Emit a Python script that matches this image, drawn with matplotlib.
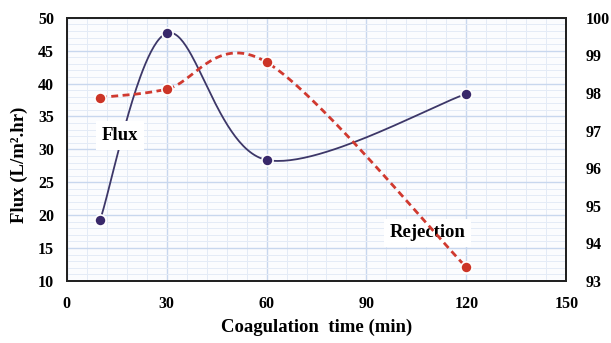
import numpy as np
import matplotlib.pyplot as plt
from matplotlib.ticker import MultipleLocator

time = [10, 30, 60, 120]
flux = [19.2, 47.65, 28.4, 38.45]
rejection = [97.88, 98.1, 98.82, 93.36]


def excel_smooth(x, y, n=60):
    # cubic bezier segments like Excel's "smoothed line"
    p = np.column_stack([x, y]).astype(float)
    pts = []
    for i in range(len(p) - 1):
        p0 = p[i - 1] if i > 0 else p[i]
        p3 = p[i + 2] if i + 2 < len(p) else p[i + 1]
        b0, b3 = p[i], p[i + 1]
        b1 = b0 + (p[i + 1] - p0) / 6
        b2 = b3 - (p3 - p[i]) / 6
        t = np.linspace(0, 1, n)[:, None]
        seg = ((1 - t) ** 3) * b0 + 3 * ((1 - t) ** 2) * t * b1 + 3 * (1 - t) * t ** 2 * b2 + t ** 3 * b3
        pts.append(seg)
    pts = np.vstack(pts)
    return pts[:, 0], pts[:, 1]


plt.rcParams["font.family"] = ["Liberation Serif", "DejaVu Serif"]
plt.rcParams["font.weight"] = "bold"

fig = plt.figure(figsize=(6.11, 3.43), dpi=100)
ax = fig.add_axes([0.109, 0.181, 0.818, 0.767])
ax.set_facecolor("#fbfcfe")
ax2 = ax.twinx()

ax.set_xlim(0, 150)
ax.set_ylim(10, 50)
ax2.set_ylim(93, 100)

ax.xaxis.set_major_locator(MultipleLocator(30))
ax.xaxis.set_minor_locator(MultipleLocator(6))
ax.yaxis.set_major_locator(MultipleLocator(5))
ax.yaxis.set_minor_locator(MultipleLocator(1))
ax2.yaxis.set_major_locator(MultipleLocator(1))

ax.grid(which="major", color="#c8d7ee", lw=1.0)
ax.grid(which="minor", color="#e4ebf6", lw=0.7)
ax.set_axisbelow(True)

for a in (ax, ax2):
    for s in a.spines.values():
        s.set_linewidth(1.4)
        s.set_color("#222222")
    a.tick_params(which="both", length=0, labelsize=11.5)

ax.tick_params(axis="y", pad=9)
ax.tick_params(axis="x", pad=11)
ax2.tick_params(axis="y", pad=14)

# flux curve
fx, fy = excel_smooth(time, flux)
ax.plot(fx, fy, color="#3d3768", lw=1.3, zorder=3)
ax.plot(time, flux, "o", ms=8, mfc="#38286a", mec="white", mew=1.2, zorder=4)

# rejection curve
rx, ry = excel_smooth(time, rejection)
ax2.plot(rx, ry, color="#d0392f", lw=2, ls=(0, (2.5, 1.6)), zorder=3)
ax2.plot(time, rejection, "o", ms=8, mfc="#cc3426", mec="white", mew=1.2, zorder=4)

ax.text(16, 32.1, "Flux", fontsize=13.5, fontweight="bold", ha="center", va="center",
        bbox=dict(fc="white", ec="none", pad=4), zorder=5)
ax.text(108.3, 17.3, "Rejection", fontsize=13.5, fontweight="bold", ha="center", va="center",
        bbox=dict(fc="white", ec="none", pad=4), zorder=5)

ax.set_xlabel("Coagulation  time (min)", fontsize=13.5, fontweight="bold", labelpad=5)
ax.set_ylabel("Flux (L/m².hr)", fontsize=13.5, fontweight="bold")
ax.yaxis.set_label_coords(-0.077, 0.44)

fig.savefig("out.png", dpi=100)
